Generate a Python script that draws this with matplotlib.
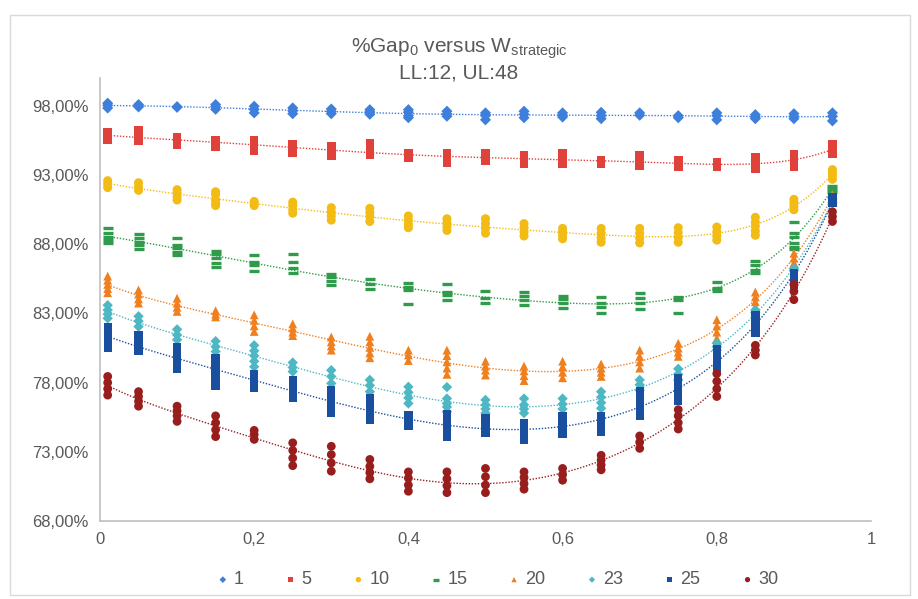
import matplotlib
matplotlib.use("Agg")
import matplotlib.pyplot as plt
from matplotlib.patches import Rectangle
from matplotlib.ticker import FuncFormatter
import numpy as np

plt.rcParams['font.family'] = ['Liberation Sans', 'DejaVu Sans']
plt.rcParams['mathtext.fontset'] = 'custom'
plt.rcParams['mathtext.rm'] = 'Liberation Sans'
plt.rcParams['mathtext.it'] = 'Liberation Sans:italic'

# W_strategic values (x)
w_vals = [0.01, 0.05, 0.1, 0.15, 0.2, 0.25, 0.3, 0.35, 0.4, 0.45,
          0.5, 0.55, 0.6, 0.65, 0.7, 0.75, 0.8, 0.85, 0.9, 0.95]

# %Gap0 per x for each series (several runs per x)
gap_1 = [[98.2, 98.05, 97.85], [98.1, 98.0, 97.93], [97.95, 97.9], [98.1, 97.95, 97.76],
         [97.98, 97.75, 97.5], [97.86, 97.65, 97.44], [97.78, 97.6, 97.44], [97.73, 97.57, 97.4],
         [97.73, 97.55, 97.3, 97.15], [97.62, 97.42, 97.26], [97.5, 97.3, 97.0], [97.62, 97.4, 97.15],
         [97.5, 97.33, 97.2], [97.54, 97.3, 97.08], [97.5, 97.33], [97.3, 97.15],
         [97.5, 97.3, 97.0], [97.37, 97.2, 97.08], [97.44, 97.25, 97.08], [97.5, 97.25, 96.92]]
gap_5 = [[96.1, 95.9, 95.7, 95.55], [96.25, 96.0, 95.75, 95.5], [95.75, 95.5, 95.2], [95.55, 95.3, 95.07],
         [95.55, 95.3, 95.05, 94.8], [95.25, 94.95, 94.65], [95.1, 94.75, 94.4], [95.3, 95.0, 94.75, 94.45],
         [94.55, 94.4, 94.25], [94.55, 94.25, 93.9], [94.55, 94.3, 94.05], [94.4, 94.1, 93.8],
         [94.55, 94.3, 94.05, 93.8], [94.1, 93.8], [94.4, 94.0, 93.65], [94.1, 93.85, 93.6],
         [93.9, 93.6], [94.3, 94.0, 93.7, 93.45], [94.5, 94.2, 93.9, 93.6], [95.25, 94.9, 94.55]]
gap_10 = [[92.6, 92.35, 92.1], [92.45, 92.15, 91.9], [91.95, 91.7, 91.45, 91.2], [91.8, 91.6, 91.2, 90.95, 90.8],
          [91.1, 90.95, 90.8], [91.05, 90.8, 90.5, 90.25], [90.65, 90.35, 90.05, 89.75], [90.6, 90.3, 90.0, 89.65],
          [90.05, 89.75, 89.45, 89.2], [89.85, 89.55, 89.25, 89.0], [89.85, 89.5, 89.15, 88.8], [89.5, 89.2, 88.9, 88.6],
          [89.15, 88.9, 88.65, 88.4], [89.15, 88.8, 88.45, 88.15], [89.15, 88.8, 88.45, 88.1], [89.2, 88.85, 88.5, 88.15],
          [89.25, 88.9, 88.6, 88.3], [89.95, 89.6, 89.3, 88.95, 88.65], [91.25, 91.0, 90.75, 90.5], [93.4, 93.15, 92.95, 92.7]]
gap_15 = [[89.16, 88.79, 88.55, 88.31, 88.12], [88.74, 88.43, 88.19, 87.95, 87.64], [88.43, 87.95, 87.71, 87.46, 87.23],
          [87.54, 87.3, 86.99, 86.67, 86.34], [87.23, 86.74, 86.5, 86.07], [87.28, 86.74, 86.29, 85.95],
          [85.85, 85.61, 85.37, 85.08], [85.47, 85.13, 84.75], [85.22, 84.93, 84.7, 83.66],
          [85.11, 84.57, 84.33, 83.97], [84.64, 84.1, 83.78], [84.57, 84.26, 83.97, 83.61],
          [84.26, 84.02, 83.73, 83.37], [84.21, 83.73, 83.44, 83.0], [84.46, 84.1, 83.73, 83.3],
          [84.21, 83.97, 83.0], [85.25, 84.86, 84.62], [86.79, 86.5, 86.14, 85.95],
          [89.59, 88.84, 88.55, 88.12, 87.83, 87.64], [92.2, 92.0, 91.8]]
gap_20 = [[85.7, 85.4, 85.1, 84.8, 84.5], [84.7, 84.4, 84.05, 83.75], [84.1, 83.75, 83.45, 83.15], [83.2, 82.95, 82.75],
          [82.9, 82.5, 82.1, 81.7], [82.25, 81.95, 81.65, 81.4], [81.3, 80.95, 80.65, 80.35], [81.35, 80.95, 80.55, 80.15, 79.8],
          [80.35, 80.0, 79.6], [80.35, 79.95, 79.5, 79.05, 78.6], [79.55, 79.2, 78.9, 78.55], [79.2, 78.85, 78.5, 78.15],
          [79.55, 79.15, 78.75, 78.35], [79.35, 79.05, 78.75, 78.45], [80.35, 79.9, 79.5, 79.05], [80.85, 80.5, 80.2, 79.9],
          [82.55, 82.1, 81.65, 81.2], [84.55, 84.2, 83.85, 83.5], [87.35, 87.0, 86.65], [91.6, 91.3]]
gap_23 = [[83.6, 83.25, 82.95, 82.65], [82.8, 82.45, 82.05], [81.85, 81.45, 81.1], [81.0, 80.6, 80.25],
          [80.7, 80.3, 79.95, 79.55, 79.15], [79.45, 79.1, 78.8], [78.9, 78.45, 77.95], [78.2, 77.8, 77.35],
          [77.7, 77.3, 76.9, 76.5], [77.68, 76.85, 76.5, 76.25, 75.9], [76.75, 76.4, 76.1, 75.8], [76.85, 76.4, 76.1, 75.8],
          [76.85, 76.45, 76.1], [77.35, 76.95, 76.55, 76.15], [78.2, 77.85, 77.45], [79.0, 78.6, 78.2],
          [80.85, 80.6, 80.35], [83.25, 83.05], [86.25, 86.1], [91.3, 91.0]]
gap_25 = [[82.0, 81.6, 81.2, 80.85, 80.5], [81.45, 81.05, 80.7, 80.3], [80.55, 80.15, 79.75, 79.35, 79.0],
          [79.8, 79.3, 78.8, 78.3, 77.75], [78.6, 78.25, 77.9, 77.6], [78.2, 77.75, 77.3, 76.9],
          [77.45, 77.0, 76.55, 76.2, 75.8], [76.85, 76.45, 76.05, 75.65, 75.3], [75.65, 75.25, 74.85],
          [75.75, 75.2, 74.65, 74.1], [75.4, 75.05, 74.7, 74.35], [75.05, 74.65, 74.25, 73.85],
          [75.6, 75.15, 74.7, 74.3], [75.6, 75.1, 74.6, 74.45], [77.35, 76.85, 76.4, 76.0, 75.6],
          [78.3, 77.8, 77.25, 76.7], [80.45, 80.0, 79.5, 79.05], [82.9, 82.5, 82.0, 81.6],
          [85.9, 85.5, 85.05], [91.4, 91.2, 91.0]]
gap_30 = [[78.45, 78.0, 77.55, 77.1], [77.35, 77.0, 76.65, 76.3], [76.3, 75.95, 75.6, 75.2], [75.6, 75.1, 74.6, 74.1],
          [74.55, 74.25, 73.9], [73.65, 73.1, 72.55, 72.0], [73.4, 72.8, 72.2, 71.6], [72.45, 71.95, 71.5, 71.05],
          [71.55, 71.1, 70.6, 70.15], [71.55, 71.05, 70.55, 70.05], [71.8, 71.2, 70.6, 70.05], [71.55, 71.15, 70.7, 70.3],
          [71.8, 71.35, 70.95], [72.75, 72.4, 72.05, 71.7], [74.15, 73.7, 73.25], [76.05, 75.6, 75.1, 74.65],
          [78.65, 78.1, 77.55, 77.0], [80.7, 80.35, 80.0], [85.1, 84.6, 84.0], [90.35, 90.0, 89.65]]

labels = ['1', '5', '10', '15', '20', '23', '25', '30']
series = [gap_1, gap_5, gap_10, gap_15, gap_20, gap_23, gap_25, gap_30]
colors = ['#3D7FDB', '#E0413A', '#F2BC15', '#2F9B4B', '#F07F1E', '#4DB8C4', '#1A4FA0', '#981E1E']
markers = ['D', 's', 'o', '_', '^', 'D', 's', 'o']
sizes = [32, 38, 42, 48, 40, 28, 36, 40]

fig = plt.figure(figsize=(9.18, 5.99), dpi=100)
ax = fig.add_axes([0.1089, 0.1302, 0.8399, 0.7391])

# faint chart border
fig.patches.append(Rectangle((10 / 918, 4 / 599), 900 / 918, 580 / 599, transform=fig.transFigure,
                             fill=False, edgecolor='#d9d9d9', linewidth=1))

x_fit = np.linspace(0.01, 0.95, 300)
for lab, data, c, m, s in zip(labels, series, colors, markers, sizes):
    xs = np.concatenate([[w] * len(v) for w, v in zip(w_vals, data)])
    ys = np.concatenate(data)
    if m == '_':
        ax.scatter(xs, ys, marker=m, s=s, color=c, linewidths=2.4, label=lab, zorder=3)
    else:
        ax.scatter(xs, ys, marker=m, s=s, color=c, edgecolors='none', label=lab, zorder=3)
    # polynomial trendline (order 6, as in the spreadsheet)
    coef = np.polyfit(xs, ys, 6)
    ax.plot(x_fit, np.polyval(coef, x_fit), linestyle=(0, (1, 1.2)), color=c, linewidth=1.0, zorder=2)

ax.set_xlim(0, 1)
ax.set_ylim(68, 100)
ax.set_xticks([0, 0.2, 0.4, 0.6, 0.8, 1])
ax.set_yticks([68, 73, 78, 83, 88, 93, 98])
ax.xaxis.set_major_formatter(FuncFormatter(lambda v, p: '0' if v == 0 else ('1' if v == 1 else f'{v:.1f}'.replace('.', ','))))
ax.yaxis.set_major_formatter(FuncFormatter(lambda v, p: f'{v:.2f}%'.replace('.', ',')))
ax.tick_params(length=0, labelsize=12, labelcolor='#595959', pad=8)

for side in ['top', 'right']:
    ax.spines[side].set_visible(False)
for side in ['left', 'bottom']:
    ax.spines[side].set_color('#bfbfbf')
    ax.spines[side].set_linewidth(1.2)

fig.text(0.5, 0.918, r'%Gap$_0$ versus W$_{\mathrm{strategic}}$', ha='center', va='center',
         fontsize=15, color='#595959')
fig.text(0.5, 0.878, 'LL:12, UL:48', ha='center', va='center', fontsize=15, color='#595959')

leg = ax.legend(loc='center', bbox_to_anchor=(0.515, -0.133), ncol=8, frameon=False,
                fontsize=13, markerscale=0.6, handletextpad=0.2, columnspacing=2.2,
                handlelength=0.8, labelcolor='#595959')

fig.savefig('out.png', dpi=100)
